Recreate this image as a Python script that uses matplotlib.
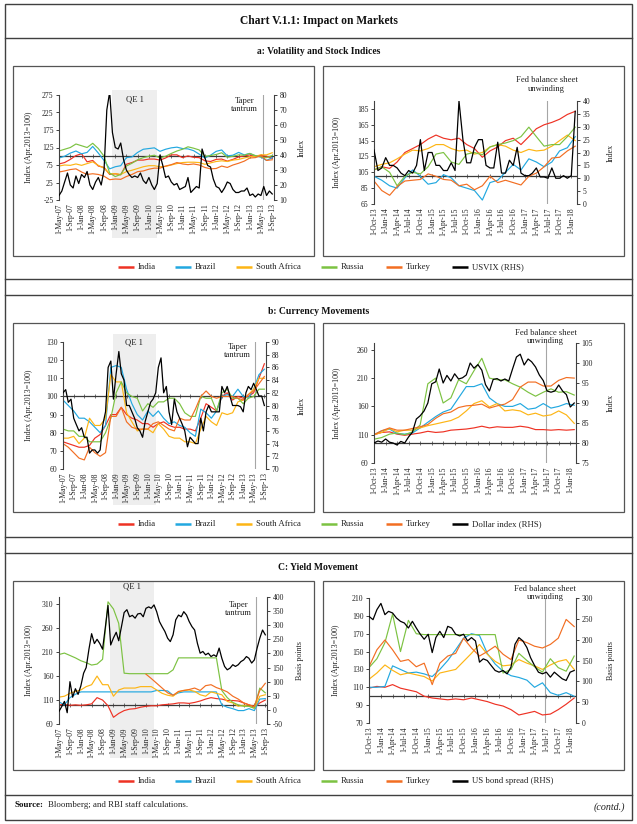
import numpy as np
import pandas as pd
import matplotlib
matplotlib.use("Agg")
import matplotlib.pyplot as plt
import matplotlib.dates as mdates
import matplotlib.transforms as mtransforms
from matplotlib.lines import Line2D
from matplotlib.patches import Rectangle

plt.rcParams["font.family"] = ["Liberation Serif", "DejaVu Serif"]
plt.rcParams["axes.unicode_minus"] = False

# ---------------- dates ----------------
left_dates = pd.date_range("2007-05-01", periods=39, freq="2MS")     # May-07 .. Sep-13
left_months = pd.date_range("2007-05-01", periods=77, freq="MS")
right_dates = pd.date_range("2013-10-01", periods=27, freq="2MS")    # Oct-13 .. Feb-18
right_months = pd.date_range("2013-10-01", periods=53, freq="MS")

left_ticks = pd.date_range("2007-05-01", "2013-09-01", freq="4MS")
right_ticks = pd.date_range("2013-10-01", "2018-01-01", freq="3MS")

qe1_start, qe1_end = "2008-11-25", "2010-03-31"
taper_date = "2013-05-22"
fed_date = "2017-06-20"

names = ["India", "Brazil", "South Africa", "Russia", "Turkey"]
colors = ["#EE3224", "#22A8E0", "#FDB515", "#7CC242", "#F26E22"]

# ---------------- a: stock indices (Apr 2013 = 100) ----------------
india_stk_l = [78, 82, 91, 102, 107, 84, 88, 72, 68, 48, 50, 47, 77, 82, 89, 89, 92, 92, 89, 95,
               104, 104, 96, 101, 97, 96, 87, 85, 91, 92, 86, 91, 98, 101, 104, 99, 103, 100, 94]
brazil_stk_l = [95, 100, 109, 115, 107, 111, 128, 109, 88, 64, 70, 73, 96, 98, 111, 120, 122, 124, 114, 120,
                124, 126, 122, 121, 116, 106, 95, 103, 114, 118, 101, 103, 111, 104, 108, 101, 98, 88, 96]
sa_stk_l = [72, 75, 74, 78, 74, 79, 84, 74, 66, 50, 50, 48, 56, 60, 65, 70, 73, 73, 70, 71,
            75, 79, 82, 83, 83, 82, 77, 81, 85, 87, 85, 89, 91, 95, 99, 100, 104, 104, 110]
russia_stk_l = [115, 120, 125, 135, 130, 125, 137, 122, 100, 52, 42, 48, 72, 80, 90, 96, 100, 103, 95, 100,
                108, 115, 120, 127, 123, 118, 100, 102, 105, 110, 97, 100, 104, 103, 108, 102, 98, 96, 102]
turkey_stk_l = [55, 58, 62, 64, 55, 48, 50, 48, 43, 33, 35, 34, 42, 48, 56, 58, 63, 66, 66, 72,
                76, 82, 78, 76, 78, 75, 68, 64, 65, 72, 68, 75, 80, 86, 95, 96, 102, 88, 90]
usvix_l = [13, 16, 22, 28, 20, 18, 26, 21, 27, 25, 29, 20, 17, 22, 25, 20, 30, 70, 82, 55,
           45, 44, 48, 37, 30, 27, 25, 26, 25, 28, 23, 21, 25, 20, 17, 21, 40, 33, 25, 26,
           22, 20, 21, 17, 18, 19, 25, 15, 17, 19, 18, 44, 38, 33, 32, 24, 19, 18, 15, 18,
           22, 21, 17, 15, 15, 16, 16, 18, 13, 14, 12, 14, 13, 19, 13, 16, 14]

india_stk_r = [108, 112, 110, 118, 130, 135, 140, 147, 152, 148, 146, 148, 140, 135, 124, 132, 137, 145,
               148, 140, 150, 160, 165, 168, 172, 178, 182]
brazil_stk_r = [100, 95, 88, 85, 98, 108, 100, 90, 92, 102, 98, 88, 85, 82, 70, 92, 95, 105,
                115, 108, 122, 118, 112, 118, 132, 136, 150]
sa_stk_r = [112, 115, 117, 122, 128, 133, 132, 135, 140, 140, 135, 132, 133, 128, 130, 137, 140, 138,
            133, 130, 134, 132, 133, 138, 145, 152, 145]
russia_stk_r = [108, 112, 105, 88, 100, 105, 103, 112, 128, 130, 118, 115, 128, 130, 127, 137, 140, 142,
                145, 150, 162, 150, 138, 140, 140, 150, 162]
turkey_stk_r = [94, 82, 76, 87, 94, 95, 96, 103, 100, 96, 95, 88, 90, 83, 88, 100, 92, 95,
                92, 89, 100, 104, 112, 123, 124, 132, 138]
usvix_r = [21, 13, 14, 18, 15, 15, 14, 12, 11, 13, 12, 15, 25, 13, 20, 20, 15, 15, 13, 13,
           16, 13, 40, 25, 16, 16, 22, 25, 25, 15, 14, 14, 24, 12, 12, 17, 15, 22, 12, 11,
           11, 12, 14, 10.5, 10.5, 10, 14, 10, 10, 11, 10, 11, 36]

# ---------------- b: currencies (Apr 2013 = 100) ----------------
india_fx_l = [75, 74, 73, 72, 72, 73, 77, 79, 84, 90, 90, 94, 90, 88, 87, 85, 85, 83, 85, 86,
              84, 83, 83, 82, 82, 81, 88, 96, 94, 92, 100, 102, 98, 100, 99, 100, 102, 110, 118]
brazil_fx_l = [98, 95, 92, 88, 88, 86, 83, 80, 84, 116, 117, 116, 104, 96, 90, 87, 92, 89, 92, 88,
               85, 86, 84, 83, 80, 78, 93, 91, 88, 92, 100, 101, 100, 104, 100, 99, 104, 112, 115]
sa_fx_l = [77, 77, 78, 74, 77, 88, 84, 84, 88, 112, 108, 108, 91, 86, 81, 82, 82, 80, 85, 82,
           78, 77, 77, 75, 75, 74, 82, 89, 86, 84, 91, 90, 91, 97, 98, 101, 104, 110, 110]
russia_fx_l = [82, 81, 81, 78, 78, 75, 75, 75, 80, 88, 102, 108, 102, 100, 99, 92, 96, 94, 97, 97,
               99, 99, 96, 91, 89, 89, 100, 99, 99, 92, 102, 104, 99, 99, 96, 99, 100, 104, 104]
turkey_fx_l = [74, 72, 69, 66, 65, 72, 69, 67, 69, 89, 89, 94, 86, 83, 82, 82, 82, 85, 86, 84,
               82, 81, 88, 87, 87, 93, 100, 103, 100, 99, 100, 100, 100, 99, 98, 101, 103, 107, 111]
dollar_l = [82.0, 82.5, 80.5, 81.0, 78.0, 77.0, 76.0, 76.5, 75.0, 75.0, 72.5, 73.0, 73.0, 72.5, 73.0,
            77.0, 79.0, 86.0, 87.0, 81.0, 85.0, 88.5, 85.0, 84.0, 80.0, 80.0, 79.0, 78.0, 76.5, 76.0,
            75.0, 77.5, 79.0, 80.5, 81.0, 82.0, 86.0, 87.5, 82.0, 83.0, 79.0, 77.0, 81.0, 79.0, 78.0,
            77.0, 76.0, 73.5, 75.0, 74.5, 74.0, 74.0, 78.0, 76.0, 79.0, 80.0, 79.0, 79.0, 79.0, 79.0,
            83.0, 82.0, 83.0, 81.5, 80.0, 80.0, 80.0, 79.8, 79.0, 82.0, 83.0, 82.5, 83.5, 82.5, 81.5,
            81.5, 80.0]

india_fx_r = [110, 114, 115, 111, 109, 111, 113, 116, 114, 115, 118, 119, 120, 122, 125, 122, 124, 123,
              123, 125, 123, 119, 119, 118, 119, 118, 119]
brazil_fx_r = [110, 117, 120, 112, 111, 113, 122, 132, 142, 150, 155, 175, 195, 195, 200, 175, 165, 160,
               160, 165, 155, 157, 165, 157, 160, 165, 162]
sa_fx_r = [110, 114, 121, 115, 118, 118, 122, 126, 129, 132, 135, 141, 152, 165, 170, 159, 165, 152,
           154, 152, 145, 148, 143, 145, 152, 145, 130]
russia_fx_r = [102, 105, 111, 113, 110, 115, 127, 200, 210, 166, 175, 207, 200, 223, 245, 210, 207, 207,
               200, 194, 185, 178, 185, 191, 185, 186, 180]
turkey_fx_r = [110, 117, 122, 118, 118, 121, 124, 128, 139, 147, 150, 158, 161, 162, 164, 157, 161, 164,
               172, 194, 203, 203, 196, 196, 206, 211, 210]
dollar_r = [80.0, 80.5, 80.2, 81.0, 80.2, 80.0, 79.5, 80.4, 80.0, 81.5, 82.7, 86.0, 86.8, 88.0, 90.0,
            94.8, 95.3, 98.5, 95.0, 96.9, 95.5, 97.3, 96.0, 96.3, 97.0, 100.0, 98.7, 99.6, 98.2, 94.6,
            93.0, 95.9, 96.1, 95.5, 96.0, 95.5, 98.5, 101.5, 102.2, 99.5, 101.0, 100.3, 99.0, 97.0, 95.6,
            93.0, 92.7, 93.0, 94.5, 93.0, 92.1, 89.0, 90.0]

# ---------------- c: yields (Apr 2013 = 100) ----------------
india_yld_l = [100, 101, 99, 100, 99, 100, 102, 115, 110, 98, 74, 82, 88, 91, 92, 95, 97, 98, 98, 100,
               101, 102, 104, 104, 103, 105, 108, 112, 115, 113, 112, 109, 109, 108, 104, 100, 95, 104, 110]
brazil_yld_l = [106, 100, 115, 122, 127, 127, 127, 127, 127, 127, 127, 127, 127, 127, 127, 127, 127, 127, 130, 130,
                129, 120, 125, 127, 127, 127, 127, 127, 127, 127, 100, 95, 92, 88, 88, 92, 88, 112, 113]
sa_yld_l = [116, 118, 124, 128, 131, 138, 142, 160, 142, 142, 118, 131, 135, 135, 135, 138, 138, 138, 131, 124,
            120, 118, 127, 130, 131, 128, 121, 118, 127, 124, 121, 107, 104, 97, 99, 97, 93, 118, 121]
russia_yld_l = [205, 208, 203, 198, 192, 188, 183, 185, 195, 315, 300, 270, 166, 165, 165, 165, 165, 165, 165, 165,
                165, 173, 198, 198, 198, 198, 198, 198, 198, 198, 130, 115, 105, 100, 97, 97, 93, 135, 125]
turkey_yld_l = [None, None, None, None, None, None, None, None, None, None, None, None, None, None, None, None,
                164, 155, 145, 135, 125, 120, 128, 130, 132, 135, 130, 140, 142, 136, 132, 127, 118, 112,
                104, 100, 97, 130, 145]
us_spread_l = [-5, 12, 30, -10, 100, 45, 75, 55, 85, 130, 150, 215, 270, 235, 250, 235, 215, 290, 370, 230,
               255, 275, 245, 295, 345, 355, 330, 335, 325, 340, 342, 330, 360, 365, 360, 372, 348, 313, 295, 278,
               254, 242, 266, 319, 336, 330, 348, 336, 313, 295, 283, 236, 201, 207, 195, 201, 189, 195, 189, 219,
               183, 154, 142, 148, 160, 154, 160, 171, 177, 189, 183, 166, 177, 219, 254, 283, 266]

india_yld_r = [109, 111, 110, 113, 109, 107, 105, 100, 98, 97, 96, 97, 96, 98, 96, 94, 91, 89,
               85, 79, 81, 83, 79, 80, 85, 91, 98]
brazil_yld_r = [110, 110, 111, 134, 130, 126, 127, 125, 122, 130, 140, 152, 165, 170, 168, 148, 136, 128,
                123, 121, 118, 110, 115, 104, 101, 104, 100]
sa_yld_r = [119, 126, 135, 129, 124, 126, 124, 122, 117, 126, 128, 130, 139, 148, 158, 147, 139, 134,
            135, 141, 137, 134, 130, 135, 139, 141, 130]
russia_yld_r = [132, 142, 160, 192, 150, 185, 170, 169, 169, 169, 169, 169, 169, 169, 169, 169, 169, 126,
                130, 148, 140, 133, 127, 142, 132, 128, 145]
turkey_yld_r = [133, 152, 163, 152, 139, 141, 133, 137, 113, 137, 145, 148, 165, 154, 145, 150, 156, 147,
                141, 163, 160, 156, 154, 158, 165, 186, 178]
us_spread_r = [256, 248, 272, 287, 260, 268, 264, 252, 244, 240, 228, 244, 228, 213, 201, 213, 169, 205,
               220, 205, 232, 228, 213, 209, 213, 197, 205, 197, 146, 154, 150, 138, 126, 122, 126, 118,
               134, 189, 205, 197, 181, 157, 138, 122, 118, 122, 110, 122, 114, 106, 102, 122, 126]

W, H = 637, 824
fig = plt.figure(figsize=(W / 100, H / 100), dpi=100)
FS = 5.5
EDGE = "#404040"
GREY_LINE = "#A6A6A6"


def fig_line(x0, y0, x1, y1, **kw):
    fig.add_artist(Line2D([x0 / W, x1 / W], [1 - y0 / H, 1 - y1 / H], transform=fig.transFigure, **kw))


def fig_box(l, t, r, b, **kw):
    fig.add_artist(Rectangle((l / W, 1 - b / H), (r - l) / W, (b - t) / H, transform=fig.transFigure,
                             fill=False, **kw))


def draw(pos, dates, cols, months, black, ylim, yt, ylim2, yt2, ticks, xlim, rlabel,
         lab_l, lab_r, cross_right=False):
    l, t, r, b = pos
    ax = fig.add_axes([l / W, 1 - b / H, (r - l) / W, (b - t) / H])
    ax2 = ax.twinx()
    for vals, c in zip(cols, colors):
        ax.plot(dates, np.array(vals, dtype=float), color=c, lw=0.85, zorder=2)
    ax2.plot(months, black, color="black", lw=0.9, zorder=3)

    ax.set_ylim(*ylim)
    ax.set_yticks(yt)
    ax2.set_ylim(*ylim2)
    ax2.set_yticks(yt2)
    ax.set_xlim(pd.Timestamp(xlim[0]), pd.Timestamp(xlim[1]))
    ax.set_xticks(ticks)
    ax.set_xticklabels([f"1-{d:%b}-{d:%y}" for d in ticks], rotation=90, fontsize=FS)
    ax.tick_params(axis="x", length=0, pad=2.5, colors="#222")

    for a in (ax, ax2):
        for s in a.spines.values():
            s.set_visible(False)
            s.set_color(EDGE)
            s.set_linewidth(0.8)
        a.tick_params(axis="y", direction="out", length=2.5, width=0.6, labelsize=FS, pad=1.5,
                      colors="#222")
    ax.spines["left"].set_visible(True)
    ax2.spines["right"].set_visible(True)

    # category axis crossing the value axis
    tgt = ax2 if cross_right else ax
    cval = 80 if cross_right else 100
    tgt.axhline(cval, color="#3a3a3a", lw=0.9, zorder=1.5)
    tgt.plot(ticks, [cval] * len(ticks), ls="none", marker="|", ms=2.2, mew=0.5, color="#3a3a3a",
             zorder=1.5)

    ax.set_ylabel("Index (Apr.2013=100)", fontsize=5.8, color="#222")
    ax.yaxis.set_label_coords((lab_l + 4 - l) / (r - l), 0.5)
    ax2.set_ylabel(rlabel, fontsize=5.8, color="#222")
    ax2.yaxis.set_label_coords((lab_r - 4 - l) / (r - l), 0.5)
    return ax, ax2


def left_events(ax, band, qe_y, taper_y):
    trans = mtransforms.blended_transform_factory(ax.transData, ax.transAxes)
    x0 = mdates.date2num(pd.Timestamp(qe1_start))
    x1 = mdates.date2num(pd.Timestamp(qe1_end))
    ax.add_patch(Rectangle((x0, band[0]), x1 - x0, band[1] - band[0], transform=trans,
                           facecolor="#EEEEEE", edgecolor="none", clip_on=False, zorder=0))
    ax.text((x0 + x1) / 2, qe_y, "QE 1", transform=trans, ha="center", va="center", fontsize=6.2,
            color="#222")
    td = pd.Timestamp(taper_date)
    ax.axvline(td, color=GREY_LINE, lw=0.8, zorder=1)
    ax.annotate("Taper\ntantrum", xy=(td, taper_y), xycoords=("data", "axes fraction"),
                xytext=(-13, 0), textcoords="offset points", ha="center", va="center",
                fontsize=6.2, color="#222", linespacing=1.1)


def right_events(ax, fed_y):
    fd = pd.Timestamp(fed_date)
    ax.axvline(fd, color=GREY_LINE, lw=0.8, zorder=1)
    ax.annotate("Fed balance sheet\nunwinding", xy=(fd, fed_y), xycoords=("data", "axes fraction"),
                ha="center", va="center", fontsize=6.2, color="#222", linespacing=1.15,
                annotation_clip=False)


# ---------------- frame, titles ----------------
fig_box(5, 4, 632, 820, ec=EDGE, lw=1.0)
for yy in (38, 279, 295, 537, 553, 795):
    fig_line(5, yy, 632, yy, color=EDGE, lw=1.0)
fig.text(318.5 / W, 1 - 21 / H, "Chart V.1.1: Impact on Markets", ha="center", va="center",
         fontsize=8.3, fontweight="bold", color="#111")
for yy, txt in ((52, "a: Volatility and Stock Indices"), (311, "b: Currency Movements"),
                (568, "C: Yield Movement")):
    fig.text(318.5 / W, 1 - yy / H, txt, ha="center", va="center", fontsize=6.9, fontweight="bold",
             color="#111")
for t, b in ((66, 256), (323, 512), (581, 770)):
    fig_box(13, t, 314, b, ec="#555555", lw=0.9)
    fig_box(323, t, 624, b, ec="#555555", lw=0.9)

L_XLIM = ("2007-05-01", "2013-09-20")
R_XLIM = ("2013-10-01", "2018-02-15")

# ---------------- panel a ----------------
ax, _ = draw((59, 95, 274, 200), left_dates,
             [india_stk_l, brazil_stk_l, sa_stk_l, russia_stk_l, turkey_stk_l],
             left_months, usvix_l, (-25, 275), range(-25, 276, 50), (10, 80), range(10, 81, 10),
             left_ticks, L_XLIM, "Index", 29, 302)
left_events(ax, (-0.36, 1.048), 0.955, 0.905)

ax, _ = draw((374, 101, 577, 204), right_dates,
             [india_stk_r, brazil_stk_r, sa_stk_r, russia_stk_r, turkey_stk_r],
             right_months, usvix_r, (65, 195), range(65, 186, 20), (0, 40), range(0, 41, 5),
             right_ticks, R_XLIM, "Index", 337, 611)
right_events(ax, 1.16)

# ---------------- panel b ----------------
ax, _ = draw((63, 342, 266, 469), left_dates,
             [india_fx_l, brazil_fx_l, sa_fx_l, russia_fx_l, turkey_fx_l],
             left_months, dollar_l, (60, 130), range(60, 131, 10), (70, 90), range(70, 91, 2),
             left_ticks, L_XLIM, "Index", 29, 302)
left_events(ax, (-0.28, 1.063), 0.995, 0.93)

ax, _ = draw((374, 343, 576, 463), right_dates,
             [india_fx_r, brazil_fx_r, sa_fx_r, russia_fx_r, turkey_fx_r],
             right_months, dollar_r, (60, 272), range(60, 261, 50), (75, 105), range(75, 106, 5),
             right_ticks, R_XLIM, "Index", 337, 611, cross_right=True)
right_events(ax, 1.05)

# ---------------- panel c ----------------
ax, _ = draw((59, 597, 267, 724), left_dates,
             [india_yld_l, brazil_yld_l, sa_yld_l, russia_yld_l, turkey_yld_l],
             left_months, us_spread_l, (60, 325), range(60, 311, 50), (-50, 400), range(-50, 401, 50),
             left_ticks, L_XLIM, "Basis points", 29, 300)
left_events(ax, (-0.27, 1.115), 1.086, 0.907)

ax, _ = draw((369, 598, 576, 723), right_dates,
             [india_yld_r, brazil_yld_r, sa_yld_r, russia_yld_r, turkey_yld_r],
             right_months, us_spread_r, (70, 210), range(70, 211, 20), (0, 300), range(0, 301, 50),
             right_ticks, R_XLIM, "Basis points", 336, 611)
right_events(ax, 1.04)

# ---------------- legends ----------------
handle_x = [118, 175, 236, 321, 386, 452]
black_names = ["USVIX (RHS)", "Dollar index (RHS)", "US bond spread (RHS)"]
for yy, bname in zip((267, 524, 781), black_names):
    for hx, lab, c in zip(handle_x, names + [bname], colors + ["black"]):
        fig_line(hx, yy, hx + 16, yy, color=c, lw=1.8, solid_capstyle="butt")
        fig.text((hx + 20) / W, 1 - yy / H, lab, ha="left", va="center", fontsize=6.3, color="#222")

# ---------------- footer ----------------
fig.text(15 / W, 1 - 805 / H, "Source:", ha="left", va="center", fontsize=6.4, fontweight="bold",
         color="#111")
fig.text(48 / W, 1 - 805 / H, "Bloomberg; and RBI staff calculations.", ha="left", va="center",
         fontsize=6.4, color="#222")
fig.text(625 / W, 1 - 807 / H, "(contd.)", ha="right", va="center", fontsize=7.2, style="italic",
         color="#222")

fig.savefig("out.png", dpi=100)
